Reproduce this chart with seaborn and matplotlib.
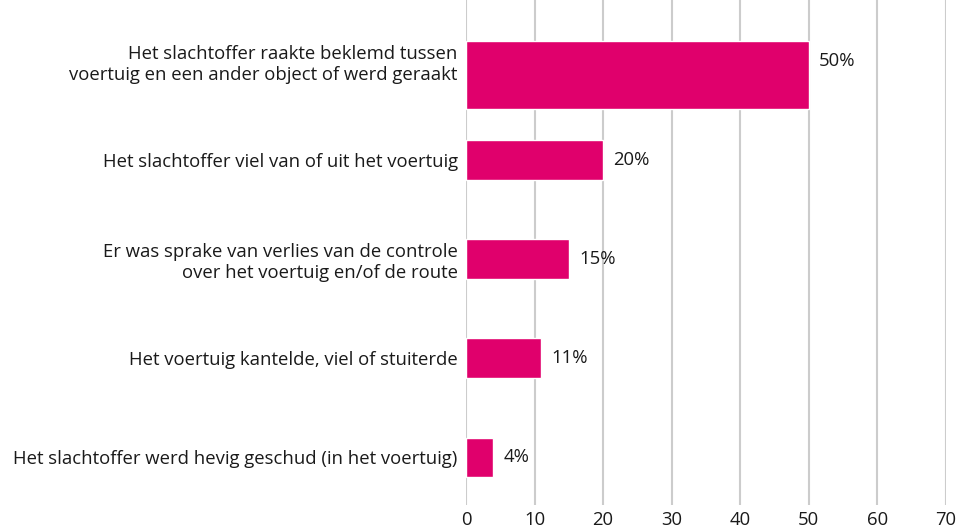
import pandas as pd
import matplotlib.pyplot as plt
import seaborn as sns

# Data
categories = [
    'Het slachtoffer raakte beklemd tussen\nvoertuig en een ander object of werd geraakt',
    'Het slachtoffer viel van of uit het voertuig',
    'Er was sprake van verlies van de controle\nover het voertuig en/of de route',
    'Het voertuig kantelde, viel of stuiterde',
    'Het slachtoffer werd hevig geschud (in het voertuig)',
]
percentages = [50, 20, 15, 11, 4]
x_ticks = [0, 10, 20, 30, 40, 50, 60, 70]

df = pd.DataFrame({'categorie': categories, 'pct': percentages})

sns.set_style('white')
plt.rcParams['font.family'] = ['Open Sans', 'DejaVu Sans']

fig = plt.figure(figsize=(9.59, 5.29), dpi=100)
ax = fig.add_axes([466 / 959, 24 / 529, 480 / 959, 505 / 529])

sns.barplot(data=df, x='pct', y='categorie', color='#E0006C', width=0.4,
            saturation=1, ax=ax, zorder=3)

# the first bar is drawn thicker in the reference, extending downwards
first = ax.patches[0]
first.set_height(0.68)

for i, v in enumerate(percentages):
    ax.text(v + 1.5, i, f'{v}%', va='center', ha='left', fontsize=13.3,
            color='#1a1a1a')

ax.set_xlim(0, 70)
ax.set_ylim(4.48, -0.615)
ax.set_xticks(x_ticks)
ax.grid(axis='x', color='#cccccc', linewidth=1.5, zorder=0)
ax.set_xlabel('')
ax.set_ylabel('')
ax.tick_params(axis='both', length=0, labelsize=13.3, colors='#1a1a1a')
ax.tick_params(axis='x', pad=4)
ax.tick_params(axis='y', pad=6)
for lbl in ax.get_yticklabels():
    lbl.set_multialignment('right')
sns.despine(ax=ax, left=True, bottom=True)

fig.savefig('out.png', dpi=100)
